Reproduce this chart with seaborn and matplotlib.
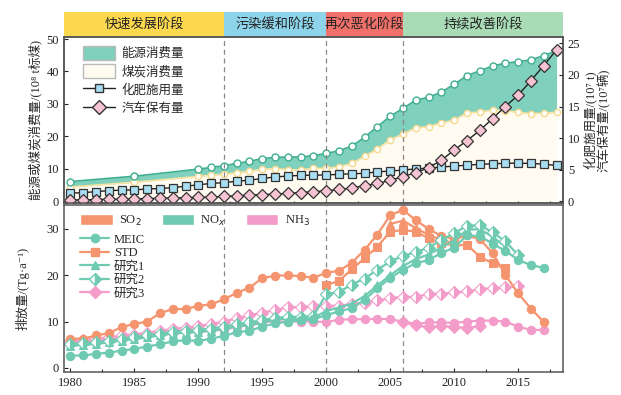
import numpy as np
import matplotlib
matplotlib.use('Agg')
import matplotlib.pyplot as plt
import seaborn as sns
from matplotlib.patches import Patch
from matplotlib.lines import Line2D
from matplotlib.ticker import MultipleLocator

sns.set_style('ticks')
plt.rcParams['font.family'] = ['Liberation Serif', 'Noto Sans CJK SC', 'DejaVu Serif']
plt.rcParams['axes.unicode_minus'] = False

# ---- 阶段 ----
stage_names = ['快速发展阶段', '污染缓和阶段', '再次恶化阶段', '持续改善阶段']
stage_edges = [1979.5, 1992, 2000, 2006, 2018.5]
stage_colors = ['#fcd84f', '#8dd4ea', '#f0706a', '#a9dcb6']

# ---- 上图数据 ----
energy_years = [1980, 1985] + list(range(1990, 2019))
energy = [6.03, 7.67, 9.87, 10.38, 10.92, 11.6, 12.27, 13.12, 13.5, 13.6, 13.6, 14.06,
          14.7, 15.55, 16.96, 19.71, 23.0, 26.14, 28.65, 31.14, 32.06, 33.61, 36.06,
          38.7, 40.21, 41.69, 42.58, 43.0, 43.6, 44.9, 46.4]
coal = [4.35, 5.8, 7.6, 8.0, 8.3, 8.7, 9.2, 9.8, 10.0, 9.7, 9.6, 10.1,
        10.1, 10.6, 11.6, 13.8, 16.1, 18.9, 20.7, 22.6, 23.0, 24.1, 25.0,
        27.2, 27.5, 28.1, 27.9, 27.4, 27.0, 27.1, 27.4]

years = list(range(1980, 2019))
fertilizer = [1.27, 1.34, 1.51, 1.66, 1.74, 1.78, 1.93, 2.0, 2.14, 2.36, 2.59, 2.81, 2.93,
              3.15, 3.32, 3.59, 3.83, 3.98, 4.08, 4.12, 4.15, 4.25, 4.34, 4.41, 4.64,
              4.77, 4.93, 5.11, 5.24, 5.4, 5.56, 5.7, 5.84, 5.91, 6.0, 6.02, 5.98, 5.86, 5.65]
cars = [0.2, 0.2, 0.25, 0.3, 0.3, 0.35, 0.4, 0.45, 0.5, 0.55, 0.6, 0.65, 0.75,
        0.85, 0.95, 1.05, 1.1, 1.25, 1.35, 1.5, 1.65, 1.85, 2.1, 2.45, 2.8,
        3.3, 3.9, 4.5, 5.3, 6.5, 8.1, 9.6, 11.2, 13.1, 15.0, 16.8, 19.1, 21.5, 24.0]

# ---- 下图数据 ----
so2_meic_years = list(range(1980, 2018))
so2_meic = [6.3, 6.3, 7.0, 7.5, 8.8, 9.5, 10.0, 11.8, 12.7, 12.7, 13.4, 13.7, 14.8,
            16.2, 17.3, 19.4, 19.9, 20.0, 19.8, 19.5, 20.5, 21.0, 22.7, 25.5, 28.8,
            33.0, 34.1, 31.9, 30.0, 28.5, 27.8, 28.6, 27.8, 24.8, 20.1, 16.1, 12.8, 9.9]
so2_std_years = list(range(2000, 2015))
so2_std = [17.9, 18.8, 21.3, 23.7, 26.2, 29.4, 29.8, 29.4, 28.0, 27.0, 26.4, 26.6,
           24.0, 22.6, 21.5]
so2_s1_years = list(range(2005, 2011))
so2_s1 = [31.1, 31.8, 30.2, 28.7, 27.6, 26.9]

nox_meic = [2.6, 2.7, 3.0, 3.3, 3.7, 4.1, 4.6, 5.1, 5.7, 6.0, 5.8, 6.3, 6.9,
            7.7, 8.0, 8.9, 9.6, 10.0, 10.3, 10.5, 11.4, 12.2, 12.9, 14.7, 17.2,
            19.4, 21.2, 22.6, 23.3, 24.8, 26.0, 28.6, 28.5, 26.8, 25.3, 23.3, 22.2, 21.6]
nox_s1_years = list(range(1980, 2015))
nox_s1 = [4.8, 4.9, 5.2, 5.5, 5.9, 6.2, 6.6, 7.0, 7.4, 7.6, 7.7, 8.0, 8.4,
          8.9, 9.2, 9.7, 10.5, 10.6, 10.5, 10.8, 12.3, 13.0, 13.9, 15.5, 17.8,
          20.0, 22.0, 23.5, 24.5, 26.0, 27.5, 29.8, 30.0, 28.3, 26.2]
nox_s2_years = list(range(1980, 2016))
nox_s2 = [5.2, 5.3, 5.6, 5.9, 6.3, 6.6, 7.0, 7.4, 7.8, 8.0, 8.2, 8.5, 8.9,
          9.4, 9.8, 10.3, 10.8, 11.0, 11.0, 11.2, 15.9, 16.4, 18.0, 19.3, 21.2,
          23.0, 24.2, 25.0, 26.0, 27.6, 29.1, 30.7, 30.8, 29.3, 27.3, 24.4]

nh3_meic = [5.4, 5.5, 5.8, 6.1, 6.4, 6.7, 7.0, 7.3, 7.6, 7.9, 8.0, 8.1, 8.2,
            8.9, 9.3, 10.0, 10.0, 10.0, 10.0, 10.0, 9.9, 10.4, 10.5, 10.5, 10.6,
            10.5, 10.0, 9.5, 9.8, 9.8, 9.7, 10.0, 10.2, 10.2, 10.0, 8.9, 8.2, 8.2]
nh3_s2_years = list(range(1980, 2016))
nh3_s2 = [5.8, 6.0, 6.3, 6.6, 7.0, 7.2, 7.6, 8.0, 8.4, 8.7, 9.0, 9.5, 10.0,
          10.7, 11.4, 11.9, 12.5, 13.1, 13.1, 13.4, 13.4, 13.4, 13.8, 14.1, 14.6,
          15.0, 15.4, 15.3, 16.0, 16.0, 16.3, 16.5, 17.0, 17.2, 17.4, 17.6]
nh3_s3_years = list(range(2006, 2013))
nh3_s3 = [9.8, 9.2, 8.8, 9.0, 8.9, 8.6, 9.0]

c_so2 = '#f5956f'
c_nox = '#6ecab1'
c_nh3 = '#f39cc9'

fig = plt.figure(figsize=(6.21, 3.95), dpi=100)
ax_h = fig.add_axes([0.103, 0.9063, 0.8035, 0.0633])
ax1 = fig.add_axes([0.103, 0.486, 0.8035, 0.420])
ax2 = fig.add_axes([0.103, 0.0582, 0.8035, 0.423])
ax1r = ax1.twinx()

xlim = (1979.5, 2018.5)

# 阶段标题条
for i, name in enumerate(stage_names):
    ax_h.axvspan(stage_edges[i], stage_edges[i + 1], color=stage_colors[i], lw=0)
    ax_h.text((stage_edges[i] + stage_edges[i + 1]) / 2, 0.5, name, ha='center',
              va='center', fontsize=9.5, color='#222222')
ax_h.set_xlim(xlim)
ax_h.set_ylim(0, 1)
ax_h.axis('off')

# ---- 上图 ----
ax1.fill_between(energy_years, 0, coal, color='#fffbf0', lw=0)
ax1.fill_between(energy_years, coal, energy, color='#7fd0bd', lw=0)
sns.lineplot(x=energy_years, y=coal, ax=ax1, color='#fbe3a3', lw=1.2, marker='o',
             markersize=4.5, markerfacecolor='white', markeredgecolor='#f7d98e',
             markeredgewidth=1, legend=False)
sns.lineplot(x=energy_years, y=energy, ax=ax1, color='#3fae90', lw=1.2, marker='o',
             markersize=5, markerfacecolor='white', markeredgecolor='#3fae90',
             markeredgewidth=1, legend=False)
for s in stage_edges[1:4]:
    ax1.axvline(s, color='#888888', ls=(0, (4, 3)), lw=0.9)
    ax2.axvline(s, color='#888888', ls=(0, (4, 3)), lw=0.9)

sns.lineplot(x=years, y=fertilizer, ax=ax1r, color='#222222', lw=1, marker='s',
             markersize=6, markerfacecolor='#a9ddf2', markeredgecolor='#333333',
             markeredgewidth=0.9, legend=False)
sns.lineplot(x=years, y=cars, ax=ax1r, color='#222222', lw=1, marker='D',
             markersize=6.5, markerfacecolor='#f6c3d3', markeredgecolor='#333333',
             markeredgewidth=0.9, legend=False)

ax1.set_xlim(xlim)
ax1.set_ylim(-0.6, 50.6)
ax1r.set_ylim(-0.3, 26.0)
ax1.set_yticks([0, 10, 20, 30, 40, 50])
ax1r.set_yticks([0, 5, 10, 15, 20, 25])
ax1.set_ylabel('能源或煤炭消费量/(10⁸ t标煤)', fontsize=9, labelpad=3)
ax1r.set_ylabel('化肥施用量/(10⁷ t)\n汽车保有量/(10⁷辆)', fontsize=9,
                labelpad=2, linespacing=1.0)
ax1.tick_params(axis='x', labelbottom=False)

top_handles = [
    Patch(facecolor='#7fd0bd', edgecolor='#bbbbbb', label='能源消费量'),
    Patch(facecolor='#fffbf0', edgecolor='#bbbbbb', label='煤炭消费量'),
    Line2D([], [], color='#222222', lw=1, marker='s', markersize=6,
           markerfacecolor='#a9ddf2', markeredgecolor='#333333', label='化肥施用量'),
    Line2D([], [], color='#222222', lw=1, marker='D', markersize=7,
           markerfacecolor='#f6c3d3', markeredgecolor='#333333', label='汽车保有量'),
]
ax1r.legend(handles=top_handles, loc='upper left', bbox_to_anchor=(0.02, 1.0),
            frameon=False, fontsize=9, handlelength=2.6, handleheight=1.3,
            labelspacing=0.35, handletextpad=0.5, borderaxespad=0.3)

# ---- 下图 ----
ms = 6
sns.lineplot(x=so2_meic_years, y=nh3_meic, ax=ax2, color=c_nh3, lw=1.6, marker='o',
             markersize=ms, markerfacecolor=c_nh3, markeredgecolor=c_nh3, legend=False)
sns.lineplot(x=nh3_s3_years, y=nh3_s3, ax=ax2, color=c_nh3, lw=1.6, marker='D',
             markersize=ms, markerfacecolor=c_nh3, markeredgecolor=c_nh3, legend=False)
sns.lineplot(x=nh3_s2_years, y=nh3_s2, ax=ax2, color=c_nh3, lw=1.6, marker='D',
             markersize=ms, fillstyle='right', markerfacecolor=c_nh3,
             markerfacecoloralt='white', markeredgecolor=c_nh3, markeredgewidth=0.8,
             legend=False)

sns.lineplot(x=so2_meic_years, y=so2_meic, ax=ax2, color=c_so2, lw=1.6, marker='o',
             markersize=ms, markerfacecolor=c_so2, markeredgecolor=c_so2, legend=False)
sns.lineplot(x=so2_std_years, y=so2_std, ax=ax2, color=c_so2, lw=1.6, marker='s',
             markersize=5.5, markerfacecolor=c_so2, markeredgecolor=c_so2, legend=False)
sns.lineplot(x=so2_s1_years, y=so2_s1, ax=ax2, color=c_so2, lw=1.6, marker='^',
             markersize=ms, markerfacecolor=c_so2, markeredgecolor=c_so2, legend=False)

sns.lineplot(x=nox_s1_years, y=nox_s1, ax=ax2, color=c_nox, lw=1.6, marker='^',
             markersize=ms, markerfacecolor=c_nox, markeredgecolor=c_nox, legend=False)
sns.lineplot(x=nox_s2_years, y=nox_s2, ax=ax2, color=c_nox, lw=1.6, marker='D',
             markersize=ms, fillstyle='right', markerfacecolor=c_nox,
             markerfacecoloralt='white', markeredgecolor=c_nox, markeredgewidth=0.8,
             legend=False)
sns.lineplot(x=so2_meic_years, y=nox_meic, ax=ax2, color=c_nox, lw=1.6, marker='o',
             markersize=ms, markerfacecolor=c_nox, markeredgecolor=c_nox, legend=False)

ax2.set_xlim(xlim)
ax2.set_ylim(-0.9, 35.2)
ax2.set_yticks([0, 10, 20, 30])
ax2.set_xticks([1980, 1985, 1990, 1995, 2000, 2005, 2010, 2015])
ax2.set_ylabel('排放量/(Tg·a⁻¹)', fontsize=9, labelpad=12)

gas_handles = [Patch(facecolor=c_so2, label='SO$_2$'),
               Patch(facecolor=c_nox, label='NO$_x$'),
               Patch(facecolor=c_nh3, label='NH$_3$')]
leg1 = ax2.legend(handles=gas_handles, loc='upper left', bbox_to_anchor=(0.015, 1.0),
                  ncol=3, frameon=False, fontsize=9, handlelength=2.6,
                  handleheight=1.0, columnspacing=1.6, handletextpad=0.5,
                  borderaxespad=0.3)
ax2.add_artist(leg1)
src_handles = [
    Line2D([], [], color=c_nox, lw=1.6, marker='o', markersize=ms, label='MEIC'),
    Line2D([], [], color=c_so2, lw=1.6, marker='s', markersize=5.5, label='STD'),
    Line2D([], [], color=c_nox, lw=1.6, marker='^', markersize=ms, label='研究1'),
    Line2D([], [], color=c_nox, lw=1.6, marker='D', markersize=ms, fillstyle='right',
           markerfacecoloralt='white', label='研究2'),
    Line2D([], [], color=c_nh3, lw=1.6, marker='D', markersize=ms, label='研究3'),
]
ax2.legend(handles=src_handles, loc='upper left', bbox_to_anchor=(0.015, 0.88),
           frameon=False, fontsize=9, handlelength=2.3, labelspacing=0.12,
           handletextpad=0.4, borderaxespad=0.3)

for ax in (ax1, ax1r, ax2):
    ax.tick_params(direction='in', length=3, width=0.8, labelsize=9, colors='#222222')
    ax.tick_params(which='minor', direction='in', length=2, width=0.8)
    for sp in ax.spines.values():
        sp.set_color('#555555')
        sp.set_linewidth(1.1)
for ax in (ax1, ax2):
    ax.xaxis.set_major_locator(MultipleLocator(5))
    ax.xaxis.set_minor_locator(MultipleLocator(2.5))
ax1.set_facecolor('white')

fig.savefig('out.png', dpi=100)
